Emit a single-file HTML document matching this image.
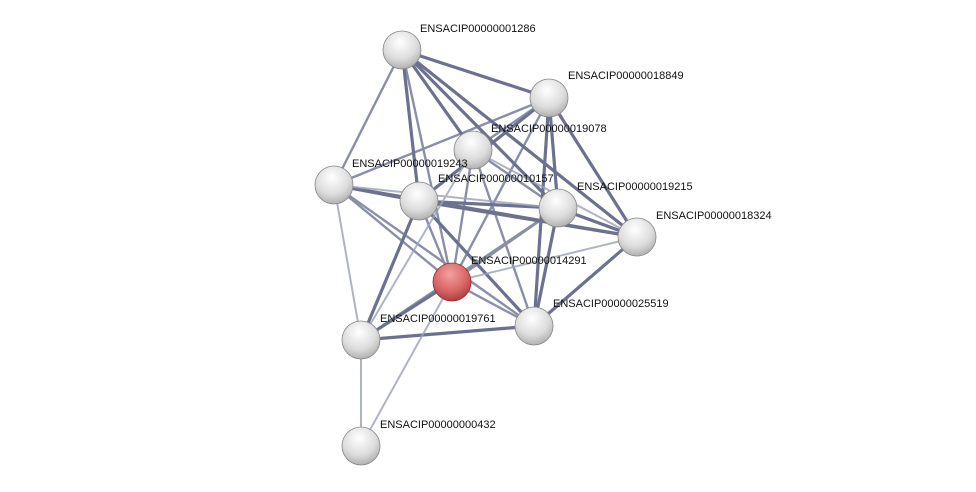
<!DOCTYPE html>
<html><head><meta charset="utf-8"><style>
html,body{margin:0;padding:0;background:#fff;}
svg{display:block;}
text{font-family:"Liberation Sans",sans-serif;font-size:11px;fill:#111;}
</style></head><body>
<svg width="976" height="492" viewBox="0 0 976 492" xmlns="http://www.w3.org/2000/svg">
<defs>
<radialGradient id="g" cx="0.45" cy="0.3" r="0.75">
<stop offset="0" stop-color="#ffffff"/><stop offset="0.6" stop-color="#dcdcdc"/><stop offset="1" stop-color="#a8a8a8"/>
</radialGradient>
<radialGradient id="r" cx="0.45" cy="0.3" r="0.75">
<stop offset="0" stop-color="#f4a0a0"/><stop offset="0.6" stop-color="#d86464"/><stop offset="1" stop-color="#a03a3a"/>
</radialGradient>
</defs>
<g stroke-linecap="round">
<g stroke="#5b6282" stroke-width="3.2" opacity="0.9">
<line x1="402" y1="50" x2="549" y2="98"/>
<line x1="402" y1="50" x2="419" y2="201"/>
<line x1="402" y1="50" x2="637" y2="237"/>
<line x1="402" y1="50" x2="558" y2="208"/>
<line x1="402" y1="50" x2="473" y2="150"/>
<line x1="549" y1="98" x2="558" y2="208"/>
<line x1="549" y1="98" x2="637" y2="237"/>
<line x1="549" y1="98" x2="419" y2="201"/>
<line x1="549" y1="98" x2="534" y2="326"/>
<line x1="419" y1="201" x2="558" y2="208"/>
<line x1="419" y1="201" x2="637" y2="237"/>
<line x1="419" y1="201" x2="361" y2="340"/>
<line x1="419" y1="201" x2="534" y2="326"/>
<line x1="558" y1="208" x2="637" y2="237"/>
<line x1="558" y1="208" x2="534" y2="326"/>
<line x1="637" y1="237" x2="534" y2="326"/>
<line x1="334" y1="185" x2="419" y2="201"/>
<line x1="361" y1="340" x2="534" y2="326"/>
<line x1="361" y1="340" x2="452" y2="282"/>
<line x1="334" y1="185" x2="637" y2="237"/>
</g>
<g stroke="#6d7493" stroke-width="2.4" opacity="0.8">
<line x1="402" y1="50" x2="334" y2="185"/>
<line x1="402" y1="50" x2="452" y2="282"/>
<line x1="549" y1="98" x2="334" y2="185"/>
<line x1="549" y1="98" x2="452" y2="282"/>
<line x1="549" y1="98" x2="473" y2="150"/>
<line x1="473" y1="150" x2="558" y2="208"/>
<line x1="473" y1="150" x2="534" y2="326"/>
<line x1="334" y1="185" x2="452" y2="282"/>
<line x1="334" y1="185" x2="534" y2="326"/>
<line x1="419" y1="201" x2="452" y2="282"/>
<line x1="558" y1="208" x2="452" y2="282"/>
<line x1="558" y1="208" x2="361" y2="340"/>
<line x1="452" y1="282" x2="534" y2="326"/>
<line x1="473" y1="150" x2="452" y2="282"/>
</g>
<g stroke="#9ca1b8" stroke-width="2" opacity="0.8">
<line x1="334" y1="185" x2="361" y2="340"/>
<line x1="452" y1="282" x2="637" y2="237"/>
<line x1="473" y1="150" x2="361" y2="340"/>
<line x1="473" y1="150" x2="637" y2="237"/>
<line x1="334" y1="185" x2="558" y2="208"/>
<line x1="361" y1="340" x2="361" y2="446"/>
<line x1="452" y1="282" x2="361" y2="446"/>
</g>
</g>
<g stroke="#888" stroke-width="0.8">
<circle cx="402" cy="50" r="19" fill="url(#g)"/>
<circle cx="549" cy="98" r="19" fill="url(#g)"/>
<circle cx="473" cy="150" r="19" fill="url(#g)"/>
<circle cx="334" cy="185" r="19" fill="url(#g)"/>
<circle cx="419" cy="201" r="19" fill="url(#g)"/>
<circle cx="558" cy="208" r="19" fill="url(#g)"/>
<circle cx="637" cy="237" r="19" fill="url(#g)"/>
<circle cx="452" cy="282" r="19" fill="url(#r)" stroke="#903030"/>
<circle cx="534" cy="326" r="19" fill="url(#g)"/>
<circle cx="361" cy="340" r="19" fill="url(#g)"/>
<circle cx="361" cy="446" r="19" fill="url(#g)"/>
</g>
<text x="420" y="32">ENSACIP00000001286</text>
<text x="568" y="79">ENSACIP00000018849</text>
<text x="491" y="132">ENSACIP00000019078</text>
<text x="352" y="167">ENSACIP00000019243</text>
<text x="438" y="182">ENSACIP00000010157</text>
<text x="577" y="190">ENSACIP00000019215</text>
<text x="656" y="219">ENSACIP00000018324</text>
<text x="471" y="264">ENSACIP00000014291</text>
<text x="553" y="307">ENSACIP00000025519</text>
<text x="380" y="322">ENSACIP00000019761</text>
<text x="380" y="428">ENSACIP00000000432</text>
</svg>
</body></html>
